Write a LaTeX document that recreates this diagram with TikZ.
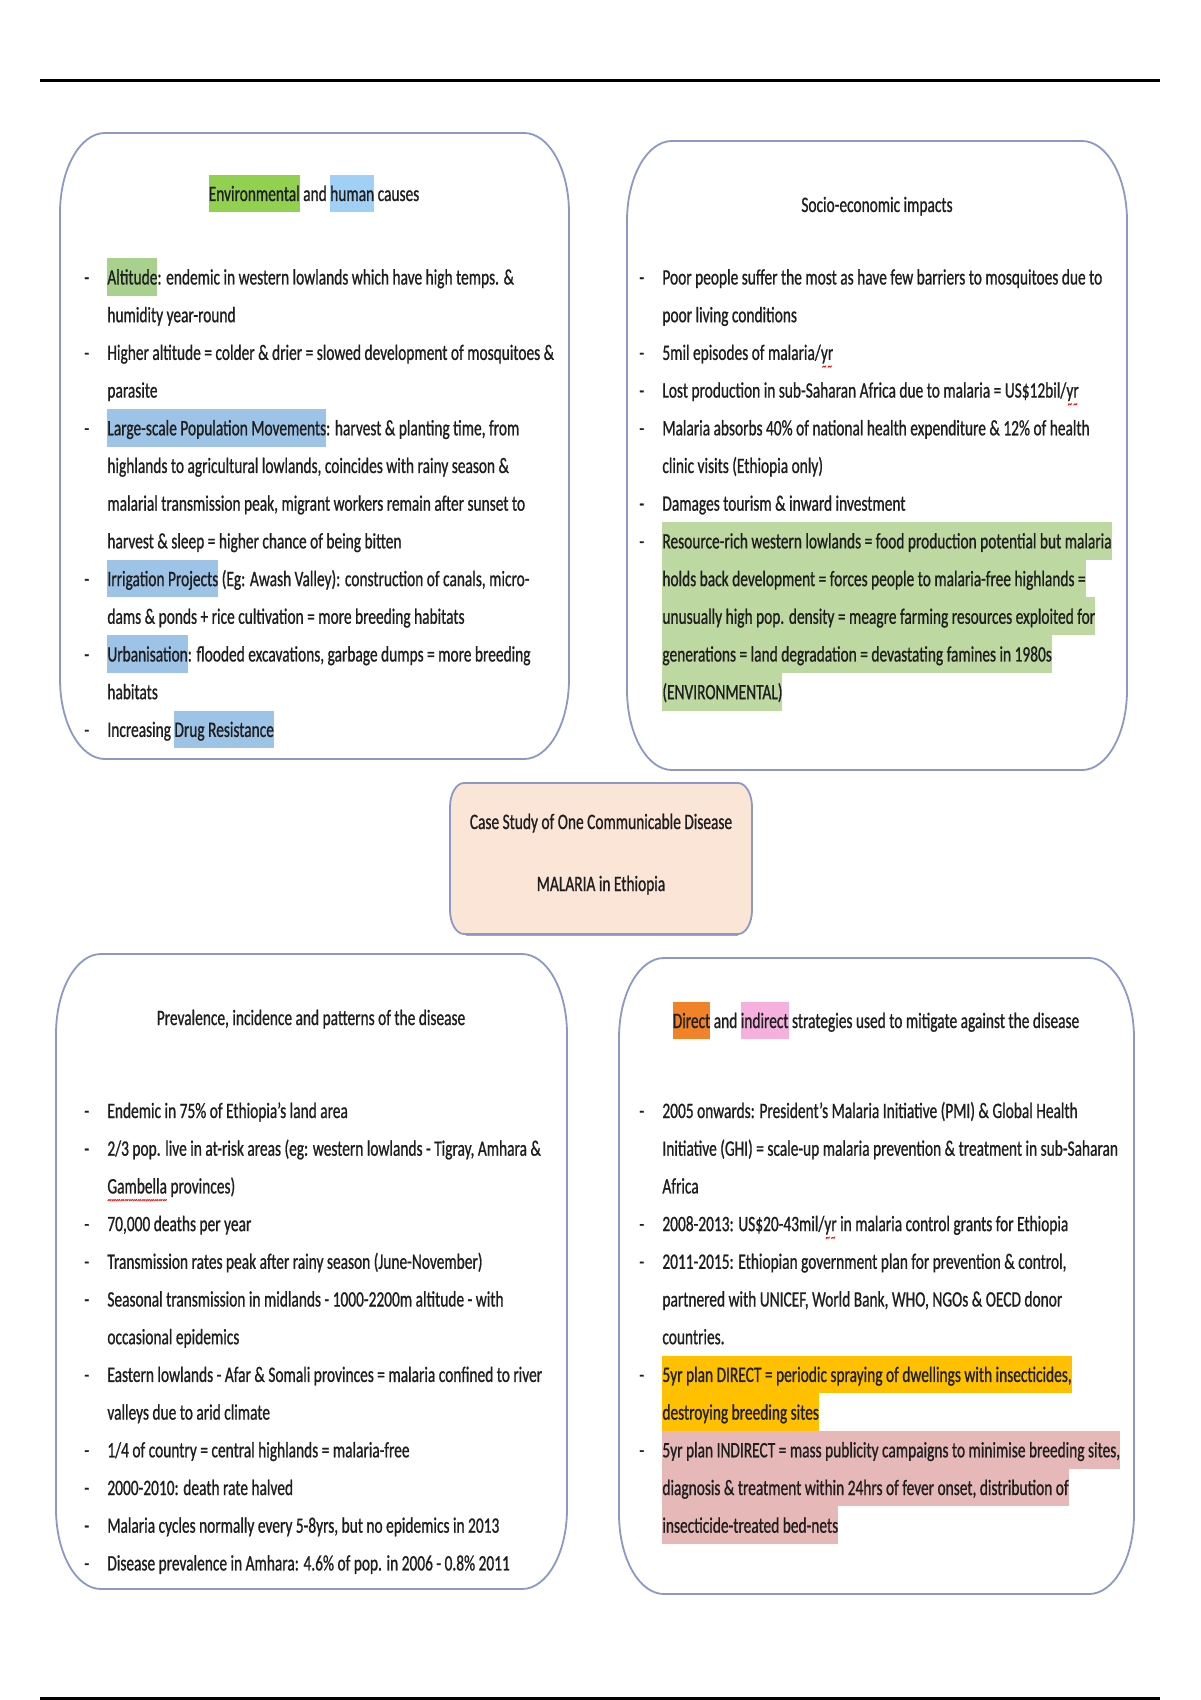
\documentclass[tikz,border=0pt]{standalone}
\usepackage{fontspec}
\setmainfont{Carlito}[FakeStretch=0.70,FakeBold=0.8]
\usetikzlibrary{positioning}

\definecolor{outline}{RGB}{140,152,198}
\definecolor{ink}{RGB}{30,30,30}
\definecolor{peach}{RGB}{251,229,214}
\definecolor{envgreen}{RGB}{146,208,80}
\definecolor{altgreen}{RGB}{169,209,142}
\definecolor{paragreen}{RGB}{190,216,162}
\definecolor{humanblue}{RGB}{160,208,246}
\definecolor{causeblue}{RGB}{157,195,230}
\definecolor{directorange}{RGB}{240,130,40}
\definecolor{indirectpink}{RGB}{246,176,222}
\definecolor{plangold}{RGB}{255,192,0}
\definecolor{planrose}{RGB}{230,185,184}

\newcommand\bodyfont{\fontsize{11}{18.85}\selectfont}
\newcommand\hl[2]{{\setlength{\fboxsep}{0pt}\colorbox{#1}{\strut #2}}}
\newcommand\dash{\makebox[11.5pt][l]{-}}
\newcommand\cont{\hspace*{11.5pt}}
% red spell-check wave under a word
\newsavebox\spellbox
\newcommand\spell[1]{\sbox\spellbox{#1}\rlap{\raisebox{-5pt}[0pt][0pt]{\color{red}\fontsize{6}{6}\selectfont\hbox to \wd\spellbox{\xleaders\hbox{\char"7E}\hfil}}}\usebox\spellbox}

% rounded box with oval corners: [style]{left}{top}{right}{bottom}{rx}{ry}
\newcommand\panel[7][]{%
  \draw[panel,#1] (#2+#6,#3) -- (#4-#6,#3)
    arc[start angle=-90,end angle=0,x radius=#6,y radius=#7] -- (#4,#5-#7)
    arc[start angle=0,end angle=90,x radius=#6,y radius=#7] -- (#2+#6,#5)
    arc[start angle=90,end angle=180,x radius=#6,y radius=#7] -- (#2,#3+#7)
    arc[start angle=180,end angle=270,x radius=#6,y radius=#7] -- cycle;}

\tikzset{
    panel/.style={draw=outline, line width=0.9pt},
    rule/.style={draw=black, line width=1.5pt},
    heading/.style={anchor=base, inner sep=0pt, text=ink, font=\bodyfont},
    body/.style={anchor=base west, inner sep=0pt, text=ink, font=\bodyfont}
}

\begin{document}
\begin{tikzpicture}[x=0.5pt, y=-0.5pt]
    \useasboundingbox (0,0) rectangle (1200,1700);
    \fill[white] (0,0) rectangle (1200,1700);

    % page rules
    \draw[rule] (40,81) -- (1160,81);
    \draw[rule] (40,1698) -- (1160,1698);

    % boxes
    \panel{60}{133}{569}{759}{45}{80}
    \panel{627}{141}{1127}{770}{45}{80}
    \draw[panel, draw=black!35, line width=1.2pt] (466,935) -- (738,935);
    \panel[fill=peach]{450}{783}{752}{934}{14}{24}
    \panel{56}{954}{567}{1589}{45}{80}
    \panel{619}{958}{1134}{1594}{45}{80}

    % headings
    \node[heading] (causes) at (314,201) {\hl{envgreen}{Environmental} and \hl{humanblue}{human} causes};
    \node[heading] (impacts) at (877,212) {Socio-economic impacts};
    \node[heading] (case) at (601,829) {Case Study of One Communicable Disease};
    \node[heading] (malaria) at (601,891) {MALARIA in Ethiopia};
    \node[heading] (patterns) at (311,1025) {Prevalence, incidence and patterns of the disease};
    \node[heading] (strategies) at (876,1028) {\hl{directorange}{Direct} and \hl{indirectpink}{indirect} strategies used to mitigate against the disease};

    % lists
    \node[body] (causeslist) at (84,284.5) {\begin{tabular}[t]{@{}l@{}}
        \dash\hl{altgreen}{Altitude}: endemic in western lowlands which have high temps. \&\\
        \cont humidity year-round\\
        \dash Higher altitude = colder \& drier = slowed development of mosquitoes \&\\
        \cont parasite\\
        \dash\hl{causeblue}{Large-scale Population Movements}: harvest \& planting time, from\\
        \cont highlands to agricultural lowlands, coincides with rainy season \&\\
        \cont malarial transmission peak, migrant workers remain after sunset to\\
        \cont harvest \& sleep = higher chance of being bitten\\
        \dash\hl{causeblue}{Irrigation Projects} (Eg: Awash Valley): construction of canals, micro-\\
        \cont dams \& ponds + rice cultivation = more breeding habitats\\
        \dash\hl{causeblue}{Urbanisation}: flooded excavations, garbage dumps = more breeding\\
        \cont habitats\\
        \dash Increasing \hl{causeblue}{Drug Resistance}
    \end{tabular}};

    \node[body] (impactslist) at (639,284.5) {\begin{tabular}[t]{@{}l@{}}
        \dash Poor people suffer the most as have few barriers to mosquitoes due to\\
        \cont poor living conditions\\
        \dash 5mil episodes of malaria/\spell{yr}\\
        \dash Lost production in sub-Saharan Africa due to malaria = US\$12bil/\spell{yr}\\
        \dash Malaria absorbs 40\% of national health expenditure \& 12\% of health\\
        \cont clinic visits (Ethiopia only)\\
        \dash Damages tourism \& inward investment\\
        \dash\hl{paragreen}{Resource-rich western lowlands = food production potential but malaria}\\
        \cont\hl{paragreen}{holds back development = forces people to malaria-free highlands =}\\
        \cont\hl{paragreen}{unusually high pop. density = meagre farming resources exploited for}\\
        \cont\hl{paragreen}{generations = land degradation = devastating famines in 1980s}\\
        \cont\hl{paragreen}{(ENVIRONMENTAL)}
    \end{tabular}};

    \node[body] (patternslist) at (84,1118) {\begin{tabular}[t]{@{}l@{}}
        \dash Endemic in 75\% of Ethiopia's land area\\
        \dash 2/3 pop. live in at-risk areas (eg: western lowlands - Tigray, Amhara \&\\
        \cont\spell{Gambella} provinces)\\
        \dash 70,000 deaths per year\\
        \dash Transmission rates peak after rainy season (June-November)\\
        \dash Seasonal transmission in midlands - 1000-2200m altitude - with\\
        \cont occasional epidemics\\
        \dash Eastern lowlands - Afar \& Somali provinces = malaria confined to river\\
        \cont valleys due to arid climate\\
        \dash 1/4 of country = central highlands = malaria-free\\
        \dash 2000-2010: death rate halved\\
        \dash Malaria cycles normally every 5-8yrs, but no epidemics in 2013\\
        \dash Disease prevalence in Amhara: 4.6\% of pop. in 2006 - 0.8\% 2011
    \end{tabular}};

    \node[body] (strategieslist) at (639,1118) {\begin{tabular}[t]{@{}l@{}}
        \dash 2005 onwards: President's Malaria Initiative (PMI) \& Global Health\\
        \cont Initiative (GHI) = scale-up malaria prevention \& treatment in sub-Saharan\\
        \cont Africa\\
        \dash 2008-2013: US\$20-43mil/\spell{yr} in malaria control grants for Ethiopia\\
        \dash 2011-2015: Ethiopian government plan for prevention \& control,\\
        \cont partnered with UNICEF, World Bank, WHO, NGOs \& OECD donor\\
        \cont countries.\\
        \dash\hl{plangold}{5yr plan DIRECT = periodic spraying of dwellings with insecticides,}\\
        \cont\hl{plangold}{destroying breeding sites}\\
        \dash\hl{planrose}{5yr plan INDIRECT = mass publicity campaigns to minimise breeding sites,}\\
        \cont\hl{planrose}{diagnosis \& treatment within 24hrs of fever onset, distribution of}\\
        \cont\hl{planrose}{insecticide-treated bed-nets}
    \end{tabular}};
\end{tikzpicture}
\end{document}
